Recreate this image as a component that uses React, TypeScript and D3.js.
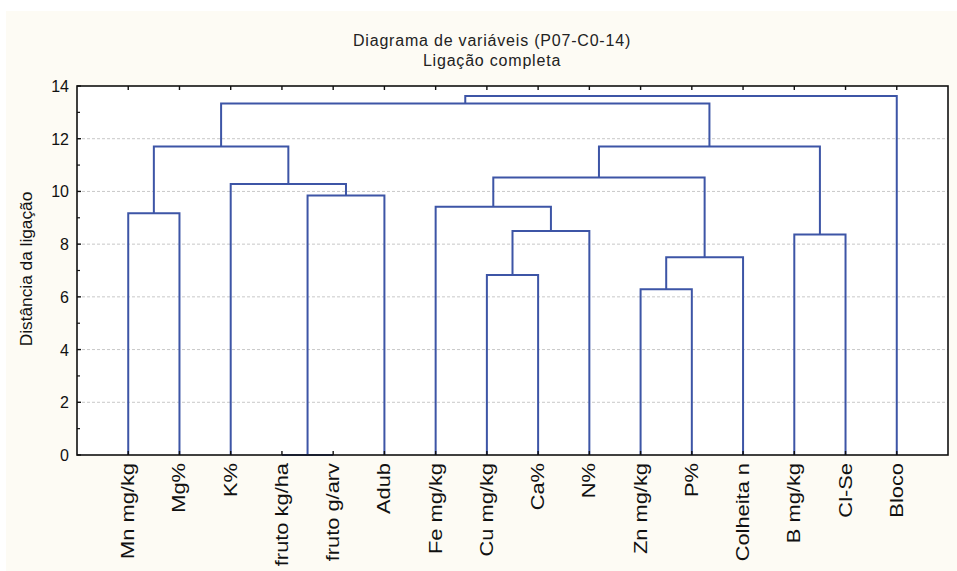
import React from "react";
import * as d3 from "d3";

const leaves = [
  "Mn mg/kg", "Mg%", "K%", "fruto kg/ha", "fruto g/arv", "Adub", "Fe mg/kg",
  "Cu mg/kg", "Ca%", "N%", "Zn mg/kg", "P%", "Colheita n", "B mg/kg", "Cl-Se", "Bloco",
];
// linkage: [left node, right node, height]; new nodes numbered from leaves.length
const mergeLeft = [3, 10, 7, 17, 13, 18, 0, 6, 16, 2, 23, 22, 26, 27, 29];
const mergeRight = [4, 11, 8, 12, 14, 9, 1, 21, 5, 24, 19, 25, 20, 28, 15];
const mergeHeight = [0, 6.29, 6.83, 7.5, 8.37, 8.5, 9.17, 9.42, 9.85, 10.28, 10.53, 11.7, 11.7, 13.34, 13.62];
const yTicks = [0, 2, 4, 6, 8, 10, 12, 14];
const yMinor = [1, 3, 5, 7, 9, 11, 13];

const W = 957, H = 571;
const L = 77, R = 948, T = 86, B = 455;
const FONT = "'Liberation Sans', Arial, sans-serif";
const BLUE = "#3D55A6";

export default function App() {
  const x = d3.scaleLinear().domain([-1, leaves.length]).range([L, R]);
  const y = d3.scaleLinear().domain([0, 14]).range([B, T]);
  const n = leaves.length;
  const nodeX: number[] = leaves.map((_, i) => x(i));
  const nodeH: number[] = leaves.map(() => 0);
  const paths: string[] = [];
  mergeLeft.forEach((a, k) => {
    const b = mergeRight[k];
    const h = mergeHeight[k];
    const xa = nodeX[a], xb = nodeX[b];
    const p = d3.path();
    p.moveTo(xa, y(nodeH[a]));
    p.lineTo(xa, y(h));
    p.lineTo(xb, y(h));
    p.lineTo(xb, y(nodeH[b]));
    paths.push(p.toString());
    nodeX[n + k] = (xa + xb) / 2;
    nodeH[n + k] = h;
  });

  return (
    <svg width={W} height={H} style={{ position: "absolute", left: 0, top: 0 }} fontFamily={FONT}>
      <rect x={0} y={0} width={W} height={H} fill="#ffffff" />
      <rect x={6} y={11} width={W - 6} height={H - 11} fill="#FDFBF4" />
      <rect x={L} y={T} width={R - L} height={B - T} fill="#ffffff" />
      <text x={492} y={46} textAnchor="middle" fontSize={16} letterSpacing={0.8} fill="#222">Diagrama de variáveis (P07-C0-14)</text>
      <text x={492} y={66} textAnchor="middle" fontSize={16} letterSpacing={0.8} fill="#222">Ligação completa</text>
      {yTicks.filter((t) => t > 0 && t < 14).map((t) => (
        <line key={"g" + t} x1={L} x2={R} y1={y(t)} y2={y(t)} stroke="#c8c8c8" strokeWidth={1} strokeDasharray="3,2" />
      ))}
      {paths.map((d, i) => (
        <path key={i} d={d} fill="none" stroke={BLUE} strokeWidth={2} />
      ))}
      <rect x={L} y={T} width={R - L} height={B - T} fill="none" stroke="#111" strokeWidth={1.6} />
      {yTicks.map((t) => (
        <g key={"yt" + t}>
          <line x1={L} x2={L + 4} y1={y(t)} y2={y(t)} stroke="#111" strokeWidth={1.4} />
          <text x={69} y={y(t) + 6} textAnchor="end" fontSize={16} fill="#111">{t}</text>
        </g>
      ))}
      {yMinor.map((t) => (
        <line key={"ym" + t} x1={L} x2={L + 3} y1={y(t)} y2={y(t)} stroke="#111" strokeWidth={1.2} />
      ))}
      {leaves.map((name, i) => (
        <g key={"xt" + i}>
          <line x1={x(i)} x2={x(i)} y1={B} y2={B - 4} stroke="#111" strokeWidth={1.4} />
          <line x1={x(i)} x2={x(i)} y1={T} y2={T + 4} stroke="#111" strokeWidth={1.4} />
          <text transform={`translate(${x(i) + 6},${B + 8}) scale(1,1.15) rotate(-90)`} textAnchor="end" fontSize={19} fill="#111">{name}</text>
        </g>
      ))}
      <text transform={`translate(32,269) scale(1,1.08) rotate(-90)`} textAnchor="middle" fontSize={16} fill="#111">Distância da ligação</text>
    </svg>
  );
}
